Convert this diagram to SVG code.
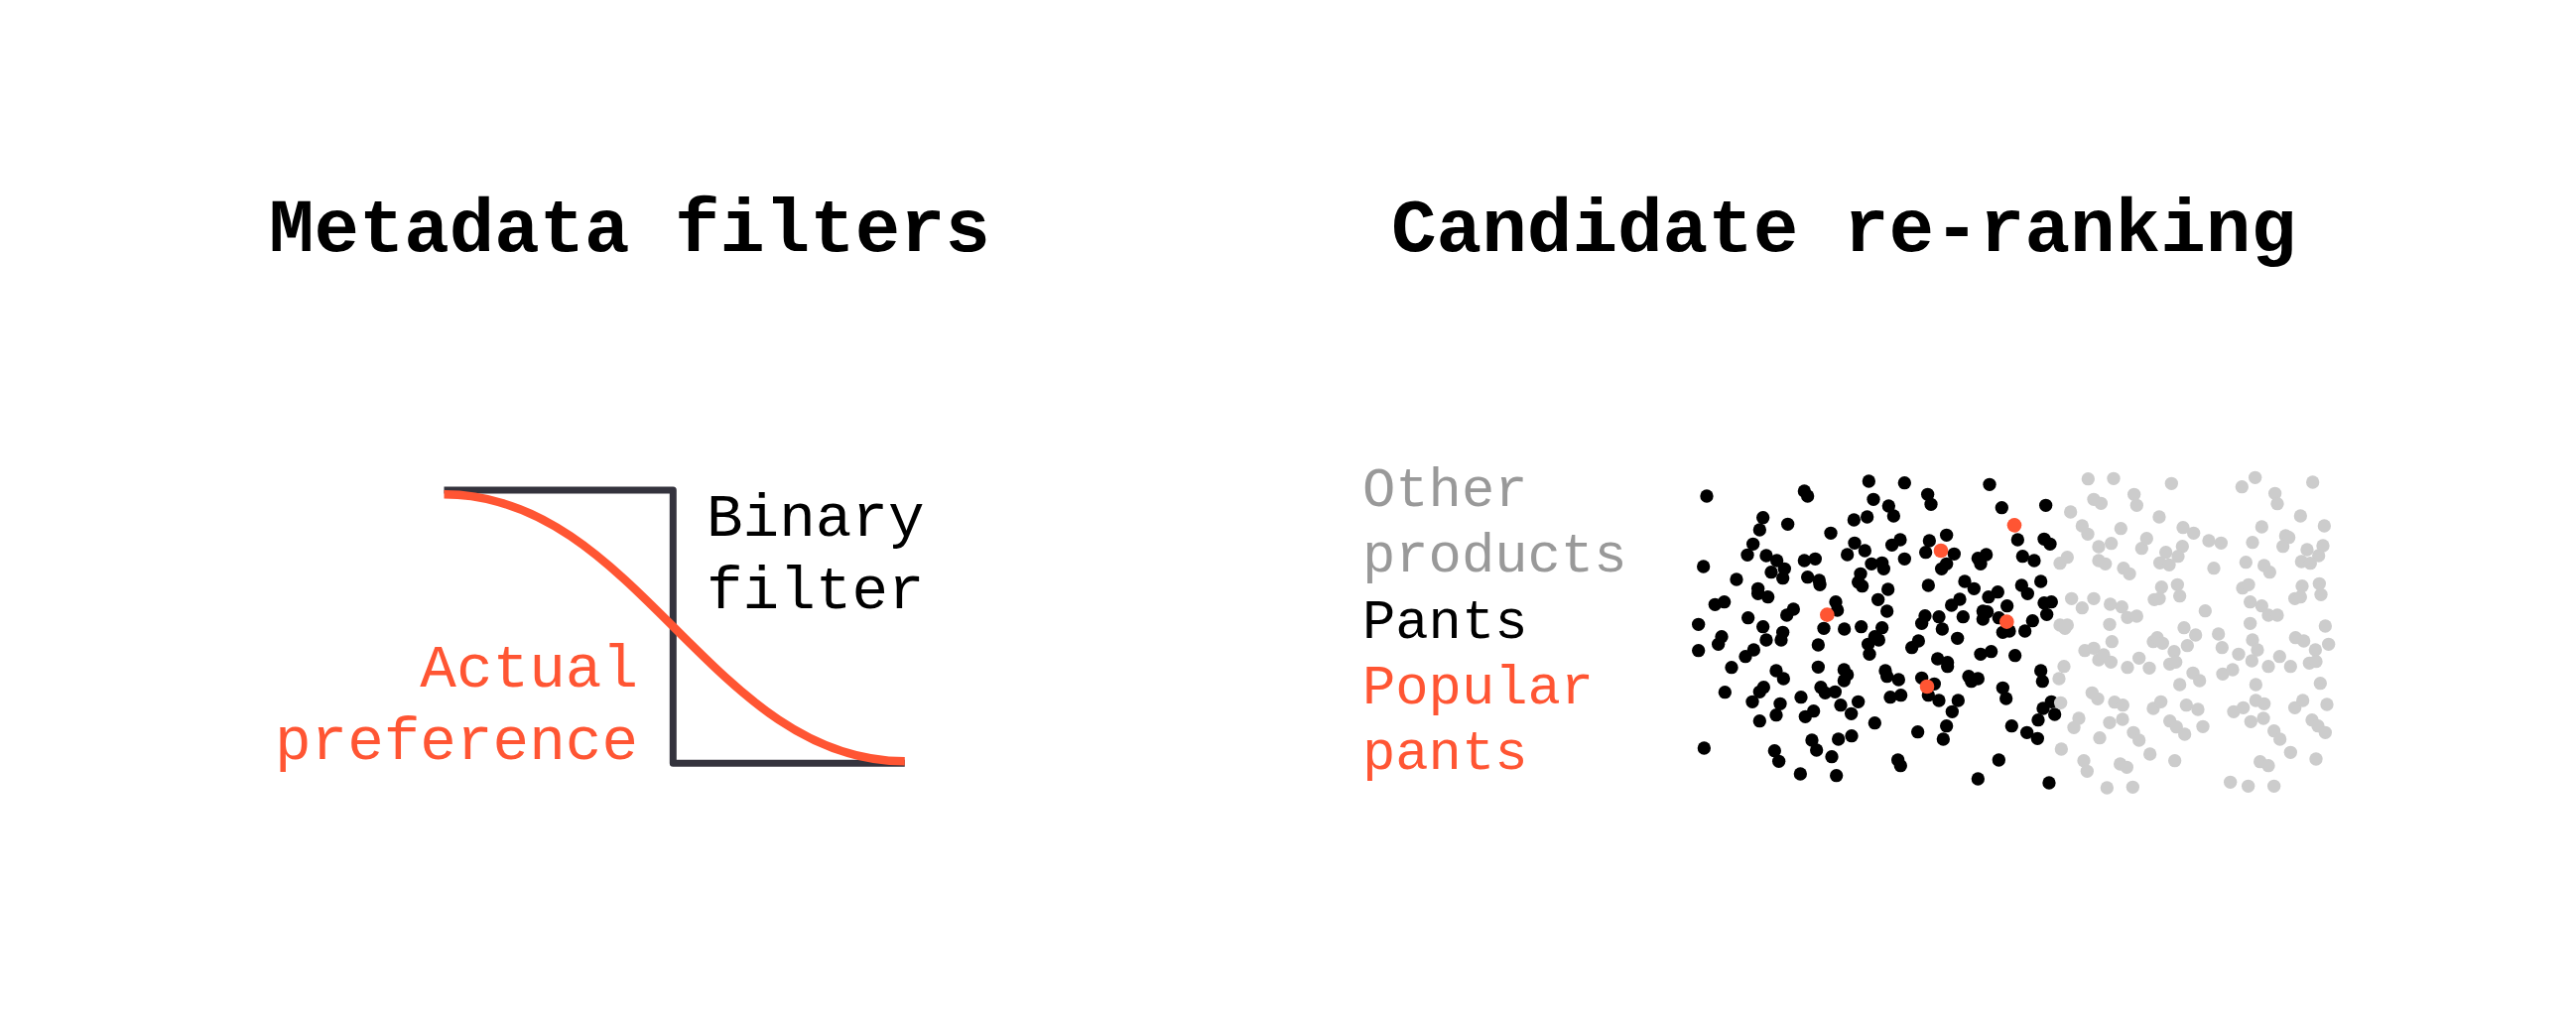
<svg xmlns="http://www.w3.org/2000/svg" width="2596" height="1023" viewBox="0 0 2596 1023">
<style>
text{font-family:"Liberation Mono","DejaVu Sans Mono",monospace}
.title{font-size:76px;font-weight:bold;fill:#000}
.lbl{font-size:61px;fill:#000}
.lbl2{font-size:55.5px}
.red{fill:#ff5533}
.gray{fill:#999999}
.blk{fill:#000}
.b circle{fill:#000}
.g circle{fill:#cccccc}
.r circle{fill:#ff5533}
</style>
<rect width="2596" height="1023" fill="#fff"/>
<g id="title-left"><text class="title" x="271" y="253" textLength="727" lengthAdjust="spacingAndGlyphs">Metadata filters</text></g>
<g id="title-right"><text class="title" x="1402" y="253" textLength="912" lengthAdjust="spacingAndGlyphs">Candidate re-ranking</text></g>
<g id="chart-left">
<path d="M447.5,494 H678.3 V769.3 H911.8" fill="none" stroke="#34333d" stroke-width="7" stroke-linejoin="round"/>
<path d="M447.5,498.3 C642.5,498.3 716.8,767.3 911.8,767.3" fill="none" stroke="#ff5533" stroke-width="8.5"/>
<text class="lbl" x="712" y="540">Binary</text>
<text class="lbl" x="712" y="613">filter</text>
<text class="lbl red" x="643" y="692" text-anchor="end">Actual</text>
<text class="lbl red" x="643" y="765" text-anchor="end">preference</text>
</g>
<g id="legend">
<text class="lbl2 gray" x="1373" y="510">Other</text>
<text class="lbl2 gray" x="1373" y="576">products</text>
<text class="lbl2 blk" x="1373" y="643">Pants</text>
<text class="lbl2 red" x="1373" y="709">Popular</text>
<text class="lbl2 red" x="1373" y="775">pants</text>
</g>
<g id="dots-black" class="b" transform="translate(1680,460) scale(0.33333)">
<circle cx="120" cy="120" r="20"/><circle cx="415" cy="105" r="20"/><circle cx="425" cy="120" r="20"/><circle cx="610" cy="75" r="20"/><circle cx="718" cy="80" r="20"/><circle cx="975" cy="85" r="20"/><circle cx="788" cy="115" r="20"/><circle cx="798" cy="145" r="20"/><circle cx="624" cy="130" r="20"/><circle cx="670" cy="150" r="20"/><circle cx="685" cy="180" r="20"/><circle cx="1012" cy="155" r="20"/><circle cx="1145" cy="148" r="20"/><circle cx="290" cy="185" r="20"/><circle cx="280" cy="222" r="20"/><circle cx="365" cy="205" r="20"/><circle cx="565" cy="192" r="20"/><circle cx="605" cy="183" r="20"/><circle cx="495" cy="232" r="20"/><circle cx="260" cy="265" r="20"/><circle cx="243" cy="298" r="20"/><circle cx="300" cy="300" r="20"/><circle cx="332" cy="315" r="20"/><circle cx="355" cy="340" r="20"/><circle cx="315" cy="350" r="20"/><circle cx="350" cy="368" r="20"/><circle cx="415" cy="315" r="20"/><circle cx="448" cy="310" r="20"/><circle cx="425" cy="365" r="20"/><circle cx="460" cy="375" r="20"/><circle cx="462" cy="388" r="20"/><circle cx="545" cy="297" r="20"/><circle cx="567" cy="262" r="20"/><circle cx="598" cy="285" r="20"/><circle cx="618" cy="325" r="20"/><circle cx="650" cy="322" r="20"/><circle cx="655" cy="340" r="20"/><circle cx="680" cy="268" r="20"/><circle cx="705" cy="252" r="20"/><circle cx="718" cy="310" r="20"/><circle cx="793" cy="255" r="20"/><circle cx="782" cy="290" r="20"/><circle cx="845" cy="238" r="20"/><circle cx="868" cy="295" r="20"/><circle cx="845" cy="325" r="20"/><circle cx="830" cy="340" r="20"/><circle cx="1060" cy="252" r="20"/><circle cx="1140" cy="250" r="20"/><circle cx="1158" cy="265" r="20"/><circle cx="1075" cy="302" r="20"/><circle cx="1110" cy="315" r="20"/><circle cx="940" cy="308" r="20"/><circle cx="965" cy="297" r="20"/><circle cx="948" cy="325" r="20"/><circle cx="110" cy="333" r="20"/><circle cx="210" cy="372" r="20"/><circle cx="585" cy="355" r="20"/><circle cx="578" cy="380" r="20"/><circle cx="590" cy="392" r="20"/><circle cx="668" cy="402" r="20"/><circle cx="790" cy="390" r="20"/><circle cx="900" cy="378" r="20"/><circle cx="928" cy="400" r="20"/><circle cx="1072" cy="390" r="20"/><circle cx="1090" cy="415" r="20"/><circle cx="1130" cy="378" r="20"/><circle cx="972" cy="425" r="20"/><circle cx="1000" cy="410" r="20"/><circle cx="1028" cy="452" r="20"/><circle cx="885" cy="432" r="20"/><circle cx="860" cy="450" r="20"/><circle cx="145" cy="448" r="20"/><circle cx="173" cy="440" r="20"/><circle cx="275" cy="400" r="20"/><circle cx="275" cy="415" r="20"/><circle cx="305" cy="425" r="20"/><circle cx="510" cy="440" r="20"/><circle cx="515" cy="465" r="20"/><circle cx="638" cy="433" r="20"/><circle cx="665" cy="468" r="20"/><circle cx="382" cy="462" r="20"/><circle cx="362" cy="480" r="20"/><circle cx="245" cy="488" r="20"/><circle cx="290" cy="515" r="20"/><circle cx="95" cy="508" r="20"/><circle cx="165" cy="545" r="20"/><circle cx="155" cy="568" r="20"/><circle cx="350" cy="532" r="20"/><circle cx="345" cy="555" r="20"/><circle cx="300" cy="555" r="20"/><circle cx="474" cy="520" r="20"/><circle cx="536" cy="522" r="20"/><circle cx="587" cy="515" r="20"/><circle cx="650" cy="518" r="20"/><circle cx="628" cy="545" r="20"/><circle cx="640" cy="555" r="20"/><circle cx="608" cy="568" r="20"/><circle cx="612" cy="598" r="20"/><circle cx="457" cy="570" r="20"/><circle cx="780" cy="482" r="20"/><circle cx="770" cy="505" r="20"/><circle cx="822" cy="485" r="20"/><circle cx="832" cy="522" r="20"/><circle cx="895" cy="485" r="20"/><circle cx="955" cy="468" r="20"/><circle cx="968" cy="470" r="20"/><circle cx="955" cy="492" r="20"/><circle cx="1003" cy="488" r="20"/><circle cx="1015" cy="532" r="20"/><circle cx="1035" cy="528" r="20"/><circle cx="1082" cy="528" r="20"/><circle cx="1105" cy="497" r="20"/><circle cx="1148" cy="478" r="20"/><circle cx="1140" cy="443" r="20"/><circle cx="1162" cy="440" r="20"/><circle cx="878" cy="550" r="20"/><circle cx="760" cy="558" r="20"/><circle cx="740" cy="578" r="20"/><circle cx="95" cy="587" r="20"/><circle cx="262" cy="585" r="20"/><circle cx="237" cy="605" r="20"/><circle cx="195" cy="638" r="20"/><circle cx="457" cy="637" r="20"/><circle cx="535" cy="645" r="20"/><circle cx="545" cy="660" r="20"/><circle cx="535" cy="678" r="20"/><circle cx="330" cy="648" r="20"/><circle cx="352" cy="672" r="20"/><circle cx="660" cy="648" r="20"/><circle cx="665" cy="665" r="20"/><circle cx="700" cy="675" r="20"/><circle cx="818" cy="612" r="20"/><circle cx="848" cy="623" r="20"/><circle cx="848" cy="635" r="20"/><circle cx="948" cy="598" r="20"/><circle cx="980" cy="590" r="20"/><circle cx="1052" cy="602" r="20"/><circle cx="912" cy="665" r="20"/><circle cx="940" cy="672" r="20"/><circle cx="920" cy="680" r="20"/><circle cx="1130" cy="648" r="20"/><circle cx="1135" cy="680" r="20"/><circle cx="770" cy="670" r="20"/><circle cx="808" cy="688" r="20"/><circle cx="175" cy="713" r="20"/><circle cx="292" cy="698" r="20"/><circle cx="280" cy="712" r="20"/><circle cx="258" cy="742" r="20"/><circle cx="342" cy="748" r="20"/><circle cx="330" cy="782" r="20"/><circle cx="405" cy="728" r="20"/><circle cx="465" cy="698" r="20"/><circle cx="478" cy="715" r="20"/><circle cx="508" cy="712" r="20"/><circle cx="525" cy="752" r="20"/><circle cx="578" cy="742" r="20"/><circle cx="557" cy="778" r="20"/><circle cx="675" cy="728" r="20"/><circle cx="707" cy="722" r="20"/><circle cx="790" cy="722" r="20"/><circle cx="822" cy="738" r="20"/><circle cx="880" cy="738" r="20"/><circle cx="862" cy="772" r="20"/><circle cx="1015" cy="700" r="20"/><circle cx="1025" cy="732" r="20"/><circle cx="1137" cy="762" r="20"/><circle cx="1162" cy="742" r="20"/><circle cx="1172" cy="780" r="20"/><circle cx="1122" cy="797" r="20"/><circle cx="280" cy="800" r="20"/><circle cx="418" cy="787" r="20"/><circle cx="443" cy="770" r="20"/><circle cx="628" cy="806" r="20"/><circle cx="758" cy="833" r="20"/><circle cx="845" cy="815" r="20"/><circle cx="835" cy="855" r="20"/><circle cx="1042" cy="815" r="20"/><circle cx="1088" cy="835" r="20"/><circle cx="1120" cy="853" r="20"/><circle cx="438" cy="858" r="20"/><circle cx="452" cy="888" r="20"/><circle cx="518" cy="855" r="20"/><circle cx="558" cy="845" r="20"/><circle cx="112" cy="882" r="20"/><circle cx="325" cy="890" r="20"/><circle cx="338" cy="922" r="20"/><circle cx="498" cy="908" r="20"/><circle cx="403" cy="960" r="20"/><circle cx="512" cy="965" r="20"/><circle cx="698" cy="918" r="20"/><circle cx="706" cy="935" r="20"/><circle cx="940" cy="975" r="20"/><circle cx="1003" cy="918" r="20"/><circle cx="1155" cy="987" r="20"/>
</g>
<g id="dots-gray" class="g" transform="translate(2040,460) scale(0.33333)">
<circle cx="193" cy="68" r="20"/><circle cx="270" cy="67" r="20"/><circle cx="445" cy="82" r="20"/><circle cx="658" cy="92" r="20"/><circle cx="698" cy="64" r="20"/><circle cx="872" cy="78" r="20"/><circle cx="210" cy="130" r="20"/><circle cx="232" cy="142" r="20"/><circle cx="332" cy="115" r="20"/><circle cx="340" cy="148" r="20"/><circle cx="758" cy="112" r="20"/><circle cx="765" cy="143" r="20"/><circle cx="140" cy="168" r="20"/><circle cx="408" cy="183" r="20"/><circle cx="835" cy="180" r="20"/><circle cx="175" cy="210" r="20"/><circle cx="192" cy="235" r="20"/><circle cx="292" cy="218" r="20"/><circle cx="480" cy="215" r="20"/><circle cx="512" cy="232" r="20"/><circle cx="718" cy="213" r="20"/><circle cx="907" cy="210" r="20"/><circle cx="225" cy="273" r="20"/><circle cx="263" cy="263" r="20"/><circle cx="355" cy="278" r="20"/><circle cx="370" cy="248" r="20"/><circle cx="428" cy="290" r="20"/><circle cx="478" cy="272" r="20"/><circle cx="465" cy="302" r="20"/><circle cx="558" cy="255" r="20"/><circle cx="595" cy="262" r="20"/><circle cx="690" cy="260" r="20"/><circle cx="790" cy="240" r="20"/><circle cx="800" cy="245" r="20"/><circle cx="782" cy="272" r="20"/><circle cx="855" cy="282" r="20"/><circle cx="903" cy="270" r="20"/><circle cx="890" cy="300" r="20"/><circle cx="838" cy="318" r="20"/><circle cx="865" cy="323" r="20"/><circle cx="108" cy="323" r="20"/><circle cx="130" cy="305" r="20"/><circle cx="225" cy="315" r="20"/><circle cx="245" cy="325" r="20"/><circle cx="410" cy="322" r="20"/><circle cx="438" cy="328" r="20"/><circle cx="573" cy="338" r="20"/><circle cx="670" cy="320" r="20"/><circle cx="725" cy="330" r="20"/><circle cx="742" cy="350" r="20"/><circle cx="300" cy="338" r="20"/><circle cx="318" cy="355" r="20"/><circle cx="415" cy="395" r="20"/><circle cx="393" cy="433" r="20"/><circle cx="408" cy="430" r="20"/><circle cx="463" cy="388" r="20"/><circle cx="470" cy="422" r="20"/><circle cx="660" cy="398" r="20"/><circle cx="678" cy="388" r="20"/><circle cx="840" cy="392" r="20"/><circle cx="892" cy="385" r="20"/><circle cx="897" cy="418" r="20"/><circle cx="818" cy="430" r="20"/><circle cx="835" cy="425" r="20"/><circle cx="143" cy="430" r="20"/><circle cx="175" cy="458" r="20"/><circle cx="210" cy="430" r="20"/><circle cx="260" cy="447" r="20"/><circle cx="295" cy="455" r="20"/><circle cx="312" cy="487" r="20"/><circle cx="340" cy="483" r="20"/><circle cx="547" cy="467" r="20"/><circle cx="683" cy="440" r="20"/><circle cx="718" cy="452" r="20"/><circle cx="738" cy="480" r="20"/><circle cx="765" cy="480" r="20"/><circle cx="108" cy="510" r="20"/><circle cx="130" cy="510" r="20"/><circle cx="123" cy="520" r="20"/><circle cx="258" cy="508" r="20"/><circle cx="483" cy="518" r="20"/><circle cx="518" cy="540" r="20"/><circle cx="587" cy="537" r="20"/><circle cx="683" cy="505" r="20"/><circle cx="910" cy="513" r="20"/><circle cx="265" cy="560" r="20"/><circle cx="390" cy="560" r="20"/><circle cx="402" cy="548" r="20"/><circle cx="418" cy="565" r="20"/><circle cx="493" cy="572" r="20"/><circle cx="598" cy="578" r="20"/><circle cx="453" cy="590" r="20"/><circle cx="690" cy="555" r="20"/><circle cx="705" cy="585" r="20"/><circle cx="648" cy="598" r="20"/><circle cx="820" cy="548" r="20"/><circle cx="845" cy="558" r="20"/><circle cx="880" cy="585" r="20"/><circle cx="920" cy="568" r="20"/><circle cx="183" cy="587" r="20"/><circle cx="210" cy="580" r="20"/><circle cx="225" cy="615" r="20"/><circle cx="240" cy="600" r="20"/><circle cx="262" cy="622" r="20"/><circle cx="312" cy="638" r="20"/><circle cx="347" cy="610" r="20"/><circle cx="378" cy="640" r="20"/><circle cx="440" cy="628" r="20"/><circle cx="458" cy="622" r="20"/><circle cx="510" cy="655" r="20"/><circle cx="530" cy="678" r="20"/><circle cx="600" cy="658" r="20"/><circle cx="630" cy="645" r="20"/><circle cx="688" cy="618" r="20"/><circle cx="738" cy="635" r="20"/><circle cx="772" cy="605" r="20"/><circle cx="805" cy="635" r="20"/><circle cx="862" cy="625" r="20"/><circle cx="882" cy="620" r="20"/><circle cx="120" cy="635" r="20"/><circle cx="105" cy="672" r="20"/><circle cx="470" cy="690" r="20"/><circle cx="700" cy="690" r="20"/><circle cx="895" cy="686" r="20"/><circle cx="205" cy="715" r="20"/><circle cx="222" cy="733" r="20"/><circle cx="110" cy="745" r="20"/><circle cx="273" cy="743" r="20"/><circle cx="298" cy="752" r="20"/><circle cx="390" cy="762" r="20"/><circle cx="413" cy="742" r="20"/><circle cx="490" cy="752" r="20"/><circle cx="525" cy="765" r="20"/><circle cx="633" cy="772" r="20"/><circle cx="662" cy="760" r="20"/><circle cx="700" cy="738" r="20"/><circle cx="725" cy="748" r="20"/><circle cx="818" cy="760" r="20"/><circle cx="842" cy="738" r="20"/><circle cx="915" cy="750" r="20"/><circle cx="165" cy="792" r="20"/><circle cx="150" cy="820" r="20"/><circle cx="258" cy="805" r="20"/><circle cx="297" cy="795" r="20"/><circle cx="440" cy="800" r="20"/><circle cx="460" cy="818" r="20"/><circle cx="485" cy="840" r="20"/><circle cx="540" cy="817" r="20"/><circle cx="685" cy="802" r="20"/><circle cx="723" cy="792" r="20"/><circle cx="870" cy="797" r="20"/><circle cx="888" cy="815" r="20"/><circle cx="910" cy="835" r="20"/><circle cx="755" cy="830" r="20"/><circle cx="773" cy="855" r="20"/><circle cx="330" cy="835" r="20"/><circle cx="347" cy="858" r="20"/><circle cx="228" cy="851" r="20"/><circle cx="112" cy="885" r="20"/><circle cx="380" cy="900" r="20"/><circle cx="455" cy="920" r="20"/><circle cx="805" cy="895" r="20"/><circle cx="180" cy="920" r="20"/><circle cx="190" cy="952" r="20"/><circle cx="290" cy="930" r="20"/><circle cx="310" cy="940" r="20"/><circle cx="713" cy="923" r="20"/><circle cx="738" cy="935" r="20"/><circle cx="882" cy="915" r="20"/><circle cx="250" cy="1002" r="20"/><circle cx="328" cy="1000" r="20"/><circle cx="623" cy="985" r="20"/><circle cx="677" cy="997" r="20"/><circle cx="755" cy="997" r="20"/>
</g>
<g id="dots-red" class="r" transform="translate(1680,460) scale(0.33333)">
<circle cx="484" cy="479" r="22"/><circle cx="828" cy="285" r="22"/><circle cx="1050" cy="208" r="22"/><circle cx="1027" cy="500" r="22"/><circle cx="786" cy="696" r="22"/>
</g>
</svg>
